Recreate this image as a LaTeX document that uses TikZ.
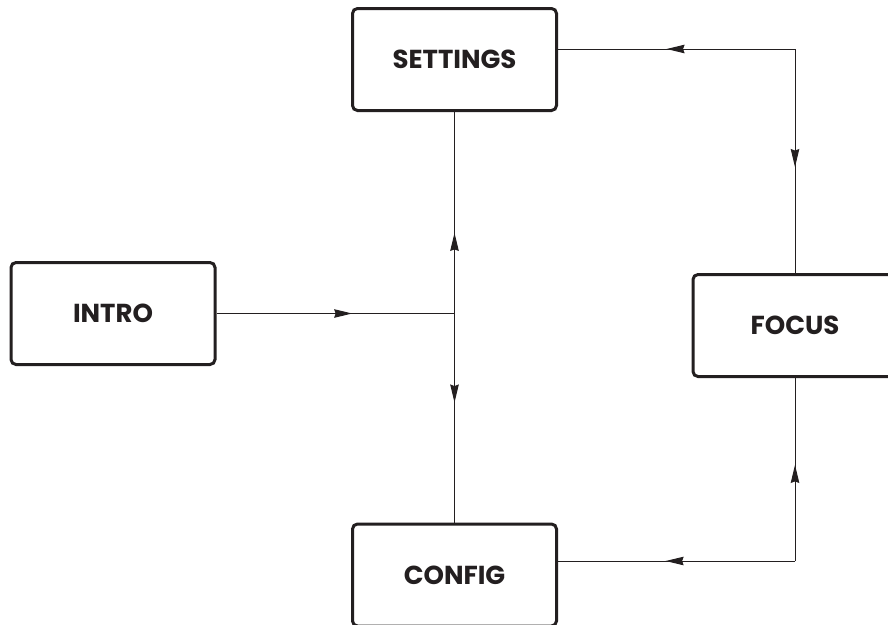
\documentclass[tikz,border=0pt]{standalone}
\usepackage{fontspec}
\setmainfont{Poppins}
\usetikzlibrary{arrows.meta,decorations.markings,calc}
\definecolor{ink}{HTML}{231F20}
\tikzset{
  box/.style={draw=ink, line width=3pt, rounded corners=5pt, minimum width=204pt,
    minimum height=102pt, inner sep=0pt, font=\fontsize{26}{30}\selectfont\bfseries, text=ink},
  conn/.style={draw=ink, line width=1pt},
  tipat/.style={postaction={decorate}, decoration={markings,
    mark=at position #1 with {\arrow{Stealth[length=18pt,width=8.5pt,inset=1.5pt]}}}}
}
\begin{document}
\begin{tikzpicture}[x=1pt,y=-1pt]
\clip (0,0) rectangle (888,624);
\fill[white] (0,0) rectangle (888,624);
\node[box] (settings) at (454.5,59.5) {SETTINGS};
\node[box] (intro) at (113,313.5) {INTRO};
\node[box] (focus) at (795,325.5) {FOCUS};
\node[box] (config) at (454.5,575) {CONFIG};
\coordinate (top) at (0,49);
\coordinate (bot) at (0,561);
\coordinate (j) at (settings.south |- intro.east);
\coordinate (c1) at (focus.north |- top);
\coordinate (c2) at (focus.south |- bot);
\draw[conn, tipat=0.57] (intro.east) -- (j);
\draw[conn, tipat=0.40] (j) -- (settings.south);
\draw[conn, tipat=0.426] (j) -- (config.north);
\draw[conn, tipat=0.542] (c1) -- (settings.east |- c1);
\draw[conn, tipat=0.527] (c1) -- (focus.north);
\draw[conn, tipat=0.546] (c2) -- (config.east |- c2);
\draw[conn, tipat=0.525] (c2) -- (focus.south);
\end{tikzpicture}
\end{document}
